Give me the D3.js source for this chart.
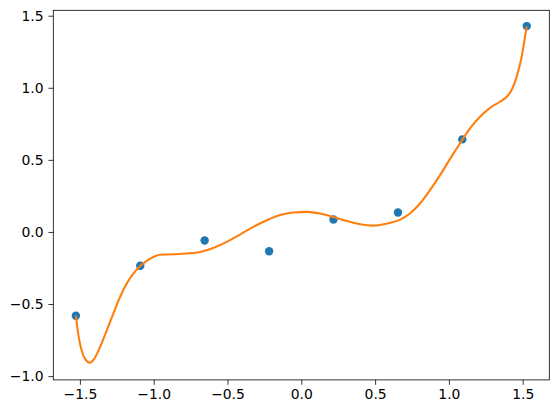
<!DOCTYPE html>
<html>
<head>
<meta charset="utf-8">
<script src="https://cdn.jsdelivr.net/npm/d3@7"></script>
<style>
  body { margin: 0; background: #fff; }
  text { font-family: "DejaVu Sans", sans-serif; }
</style>
</head>
<body>
<div id="chart"></div>
<script>
// scatter points (standardized x)
const pointX = [-1.5275, -1.091, -0.655, -0.218, 0.218, 0.655, 1.091, 1.5275];
const pointY = [-0.581, -0.235, -0.059, -0.134, 0.086, 0.135, 0.642, 1.428];

// fitted curve
const curveX = [-1.5275, -1.518, -1.504, -1.488, -1.466, -1.432, -1.402, -1.364, -1.318, -1.274,
  -1.228, -1.183, -1.138, -1.093, -1.047, -1.003, -0.957, -0.867, -0.776, -0.686,
  -0.596, -0.505, -0.415, -0.325, -0.234, -0.144, -0.054, 0.037, 0.127, 0.217,
  0.308, 0.398, 0.488, 0.579, 0.669, 0.736, 0.804, 0.872, 0.940, 1.007,
  1.075, 1.143, 1.211, 1.279, 1.346, 1.392, 1.425, 1.459, 1.493, 1.516, 1.5275];
const curveY = [-0.581, -0.660, -0.752, -0.822, -0.879, -0.907, -0.879, -0.799, -0.683, -0.567,
  -0.451, -0.358, -0.289, -0.238, -0.201, -0.174, -0.158, -0.155, -0.150, -0.139,
  -0.111, -0.069, -0.018, 0.035, 0.081, 0.118, 0.135, 0.139, 0.128, 0.104,
  0.076, 0.053, 0.044, 0.058, 0.085, 0.128, 0.197, 0.290, 0.394, 0.505,
  0.614, 0.718, 0.799, 0.861, 0.903, 0.938, 0.984, 1.076, 1.215, 1.354, 1.425];

const xTicks = [-1.5, -1.0, -0.5, 0.0, 0.5, 1.0, 1.5];
const yTicks = [-1.0, -0.5, 0.0, 0.5, 1.0, 1.5];

const W = 559, H = 413;
const margin = { top: 10.3, right: 9.7, bottom: 33.1, left: 53.3 };
const width = W - margin.left - margin.right,
  height = H - margin.top - margin.bottom;

const svg = d3.select('#chart')
  .append('svg')
  .attr('width', W)
  .attr('height', H)
  .append('g')
  .attr('transform', 'translate(' + margin.left + ',' + margin.top + ')');

const x = d3.scaleLinear().domain([-1.6803, 1.6803]).range([0, width]);
const y = d3.scaleLinear().domain([-1.0264, 1.5375]).range([height, 0]);

const fmt = d3.format('.1f');
const tickLen = 4.86;

// X axis
svg.append('g')
  .attr('transform', 'translate(0,' + height + ')')
  .call(d3.axisBottom(x).tickValues(xTicks).tickFormat(fmt)
    .tickSize(tickLen).tickPadding(4.86))
  .call(g => g.select('.domain').remove())
  .call(g => g.selectAll('line').attr('stroke', '#000').attr('stroke-width', 0.8))
  .call(g => g.selectAll('text').attr('fill', '#000').style('font-size', '13.9px')
    .attr('font-family', '"DejaVu Sans", sans-serif'));

// Y axis
svg.append('g')
  .call(d3.axisLeft(y).tickValues(yTicks).tickFormat(fmt)
    .tickSize(tickLen).tickPadding(4.86))
  .call(g => g.select('.domain').remove())
  .call(g => g.selectAll('line').attr('stroke', '#000').attr('stroke-width', 0.8))
  .call(g => g.selectAll('text').attr('fill', '#000').style('font-size', '13.9px')
    .attr('font-family', '"DejaVu Sans", sans-serif'));

// scatter
svg.append('g')
  .selectAll('circle')
  .data(pointX.map((d, i) => [d, pointY[i]]))
  .enter()
  .append('circle')
  .attr('cx', d => x(d[0]))
  .attr('cy', d => y(d[1]))
  .attr('r', 4.2)
  .attr('fill', '#1f77b4');

// fitted line
const line = d3.line()
  .x(d => x(d[0]))
  .y(d => y(d[1]))
  .curve(d3.curveMonotoneX);
svg.append('path')
  .datum(curveX.map((d, i) => [d, curveY[i]]))
  .attr('fill', 'none')
  .attr('stroke', '#ff7f0e')
  .attr('stroke-width', 2.08)
  .attr('stroke-linejoin', 'round')
  .attr('d', line);

// frame
svg.append('rect')
  .attr('width', width)
  .attr('height', height)
  .attr('fill', 'none')
  .attr('stroke', '#000')
  .attr('stroke-width', 0.8);
</script>
</body>
</html>
